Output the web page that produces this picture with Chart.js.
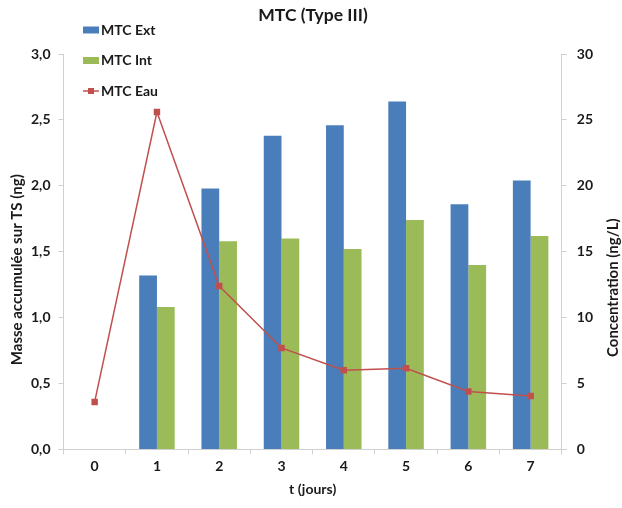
<!DOCTYPE html>
<html>
<head>
<meta charset="utf-8">
<script src="https://cdn.jsdelivr.net/npm/chart.js@4/dist/chart.umd.min.js"></script>
<style>
  html, body { margin: 0; padding: 0; background: #fff; }
  #wrap { width: 622px; height: 508px; }
</style>
</head>
<body>
<div id="wrap"><canvas id="c" width="622" height="508"></canvas></div>
<script>
const categories = ['0', '1', '2', '3', '4', '5', '6', '7'];
const mtcExt = [null, 1.32, 1.98, 2.38, 2.46, 2.64, 1.86, 2.04];
const mtcInt = [null, 1.08, 1.58, 1.60, 1.52, 1.74, 1.40, 1.62];
const mtcEau = [3.6, 25.6, 12.4, 7.7, 6.0, 6.15, 4.4, 4.05];
const seriesNames = ['MTC Ext', 'MTC Int', 'MTC Eau'];
const chartTitle = 'MTC (Type III)';
const xTitle = 't (jours)';
const yLeftTitle = 'Masse accumulée sur TS (ng)';
const yRightTitle = 'Concentration (ng/L)';

const FONT = 'Lato, "Open Sans", sans-serif';
const TXT = '#1a1a1a';
const AXIS = '#d0d0d0';

const legendPlugin = {
  id: 'customLegend',
  afterDraw(chart) {
    const ctx = chart.ctx;
    ctx.save();
    ctx.font = 'bold 14px ' + FONT;
    ctx.textBaseline = 'middle';
    const x0 = 83, y0 = 30, dy = 30.5;
    chart.data.datasets.forEach((ds, i) => {
      const y = y0 + i * dy;
      if (ds.type === 'line') {
        ctx.strokeStyle = ds.borderColor;
        ctx.lineWidth = 1.5;
        ctx.beginPath(); ctx.moveTo(x0, y); ctx.lineTo(x0 + 16, y); ctx.stroke();
        ctx.fillStyle = ds.pointBackgroundColor;
        ctx.fillRect(x0 + 5, y - 3, 6, 6);
      } else {
        ctx.fillStyle = ds.backgroundColor;
        ctx.fillRect(x0, y - 3.5, 16, 7);
      }
      ctx.fillStyle = TXT;
      ctx.fillText(ds.label, x0 + 18, y);
    });
    // vertical axis titles (both read bottom-to-top)
    const ca = chart.chartArea;
    const mid = (ca.top + ca.bottom) / 2;
    ctx.font = 'bold 15px ' + FONT;
    ctx.textAlign = 'center';
    ctx.fillStyle = TXT;
    ctx.save();
    ctx.translate(ca.left - 46, mid + 18);
    ctx.rotate(-Math.PI / 2);
    ctx.fillText(yLeftTitle, 0, 0);
    ctx.restore();
    ctx.save();
    ctx.translate(ca.right + 51, mid + 36);
    ctx.rotate(-Math.PI / 2);
    ctx.fillText(yRightTitle, 0, 0);
    ctx.restore();
    ctx.restore();
  }
};

new Chart(document.getElementById('c'), {
  data: {
    labels: categories,
    datasets: [
      { type: 'bar', label: seriesNames[0], data: mtcExt, yAxisID: 'y',
        backgroundColor: '#4A7EBB', order: 1 },
      { type: 'bar', label: seriesNames[1], data: mtcInt, yAxisID: 'y',
        backgroundColor: '#9BBB59', order: 1 },
      { type: 'line', label: seriesNames[2], data: mtcEau, yAxisID: 'y1',
        borderColor: '#C0504D', backgroundColor: '#C0504D', pointBackgroundColor: '#C0504D',
        pointBorderColor: '#C0504D', borderWidth: 1.5, pointStyle: 'rect', pointRadius: 3.5,
        tension: 0, order: 0 }
    ]
  },
  options: {
    responsive: false,
    animation: false,
    layout: { padding: { top: 0, left: 23, right: 19, bottom: 10 } },
    datasets: { bar: { categoryPercentage: 0.57, barPercentage: 1.0 } },
    plugins: {
      legend: { display: false },
      tooltip: { enabled: false },
      title: { display: true, text: chartTitle, color: TXT,
        font: { family: FONT, size: 17.5, weight: 'bold' }, padding: { top: 5, bottom: 28 } }
    },
    scales: {
      x: {
        offset: true,
        border: { color: AXIS, width: 1 },
        grid: { display: true, offset: true, drawOnChartArea: false, drawTicks: true, tickLength: 5, color: AXIS },
        ticks: { color: TXT, font: { family: FONT, size: 14, weight: 'bold' }, padding: 4 },
        title: { display: true, text: xTitle, color: TXT, font: { family: FONT, size: 14, weight: 'bold' }, padding: { top: 2, bottom: 0 } }
      },
      y: {
        position: 'left', min: 0, max: 3,
        border: { color: AXIS, width: 1 },
        grid: { display: true, drawOnChartArea: false, drawTicks: true, tickLength: 5, color: AXIS },
        ticks: { stepSize: 0.5, color: TXT, font: { family: FONT, size: 14, weight: 'bold' }, padding: 8,
          callback: v => v.toFixed(1).replace('.', ',') },
        title: { display: false }
      },
      y1: {
        position: 'right', min: 0, max: 30,
        border: { color: AXIS, width: 1 },
        grid: { display: true, drawOnChartArea: false, drawTicks: true, tickLength: 5, color: AXIS },
        ticks: { stepSize: 5, color: TXT, font: { family: FONT, size: 14, weight: 'bold' }, padding: 10,
          callback: v => String(v) },
        title: { display: false }
      }
    }
  },
  plugins: [legendPlugin]
});
</script>
</body>
</html>
